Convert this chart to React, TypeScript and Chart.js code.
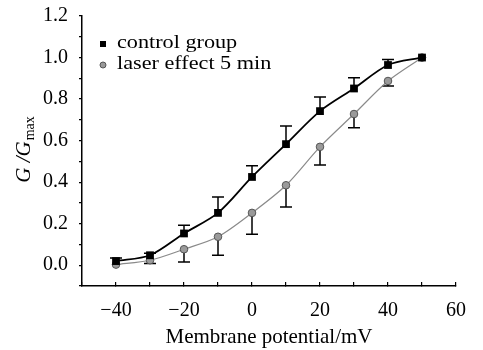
import React, { useEffect, useRef } from "react";
import { Chart, registerables } from "chart.js";

Chart.register(...registerables);

const potentials = [-40, -30, -20, -10, 0, 10, 20, 30, 40, 50];
const controlValues = [0.02, 0.048, 0.153, 0.252, 0.425, 0.583, 0.742, 0.851, 0.964, 1.0];
const controlErrorTop = [0.035, 0.058, 0.193, 0.329, 0.479, 0.67, 0.81, 0.903, 0.991, 1.0];
const laserValues = [0.003, 0.024, 0.077, 0.137, 0.252, 0.385, 0.57, 0.728, 0.887, 1.0];
const laserErrorBottom = [0.003, 0.008, 0.016, 0.048, 0.149, 0.28, 0.482, 0.662, 0.863, 1.0];
const seriesNames = ["control group", "laser effect 5 min"];
const xTitle = "Membrane potential/mV";

const FONT = '"Liberation Serif", Tinos, "Times New Roman", serif';

const errorBarPlugin = {
  id: "errorBars",
  beforeDatasetsDraw(chart: any) {
    const { ctx } = chart;
    const yScale = chart.scales.y;
    const sets = [controlErrorTop, laserErrorBottom];
    ctx.save();
    ctx.strokeStyle = "#000";
    ctx.lineWidth = 1.5;
    sets.forEach((errs, di) => {
      const meta = chart.getDatasetMeta(di);
      meta.data.forEach((pt: any, i: number) => {
        const ey = yScale.getPixelForValue(errs[i]);
        if (Math.abs(ey - pt.y) < 1.5) return;
        ctx.beginPath();
        ctx.moveTo(pt.x, pt.y);
        ctx.lineTo(pt.x, ey);
        ctx.moveTo(pt.x - 6, ey);
        ctx.lineTo(pt.x + 6, ey);
        ctx.stroke();
      });
    });
    ctx.restore();
  },
};

const decorPlugin = {
  id: "decor",
  afterDraw(chart: any) {
    const { ctx, chartArea } = chart;
    ctx.save();
    ctx.translate(23, 150);
    ctx.rotate(-Math.PI / 2);
    ctx.fillStyle = "#000";
    ctx.textBaseline = "alphabetic";
    ctx.font = `italic 21px ${FONT}`;
    const main = "G /G";
    const w1 = ctx.measureText(main).width;
    ctx.font = `14px ${FONT}`;
    const sub = "max";
    const w2 = ctx.measureText(sub).width;
    const start = -(w1 + w2) / 2;
    ctx.font = `italic 21px ${FONT}`;
    ctx.fillText(main, start, 7);
    ctx.font = `14px ${FONT}`;
    ctx.fillText(sub, start + w1 + 1, 11);
    ctx.restore();

    ctx.save();
    const lx = chartArea.left + 21;
    const ly1 = chartArea.top + 28;
    const ly2 = chartArea.top + 49;
    ctx.fillStyle = "#000";
    ctx.fillRect(lx - 3, ly1 - 3, 6, 6);
    ctx.beginPath();
    ctx.arc(lx, ly2, 3, 0, Math.PI * 2);
    ctx.fillStyle = "#999";
    ctx.fill();
    ctx.strokeStyle = "#555";
    ctx.lineWidth = 1;
    ctx.stroke();
    ctx.fillStyle = "#000";
    ctx.font = `18.5px ${FONT}`;
    ctx.textBaseline = "middle";
    [seriesNames[0], seriesNames[1]].forEach((t, i) => {
      ctx.save();
      ctx.translate(lx + 14, (i === 0 ? ly1 : ly2) - 1);
      ctx.scale(1.2, 1);
      ctx.fillText(t, 0, 0);
      ctx.restore();
    });
    ctx.restore();
  },
};

export default function App() {
  const ref = useRef<HTMLCanvasElement | null>(null);
  useEffect(() => {
    document.body.style.margin = "0";
    if (!ref.current) return;
    const chart = new Chart(ref.current, {
      type: "line",
      data: {
        datasets: [
          {
            label: seriesNames[0],
            data: potentials.map((x, i) => ({ x, y: controlValues[i] })),
            borderColor: "#000",
            backgroundColor: "#000",
            borderWidth: 1.8,
            pointStyle: "rect",
            pointRadius: 5.5,
            pointBorderWidth: 0,
            tension: 0.3,
          },
          {
            label: seriesNames[1],
            data: potentials.map((x, i) => ({ x, y: laserValues[i] })),
            borderColor: "#8a8a8a",
            backgroundColor: "#9a9a9a",
            pointBorderColor: "#555",
            borderWidth: 1.2,
            pointStyle: "circle",
            pointRadius: 3.8,
            pointBorderWidth: 1,
            tension: 0.3,
          },
        ],
      },
      options: {
        animation: false,
        responsive: false,
        devicePixelRatio: 1,
        layout: { padding: { top: 16, right: 20, left: 0, bottom: 0 } },
        plugins: { legend: { display: false }, tooltip: { enabled: false } },
        scales: {
          x: {
            type: "linear",
            min: -50,
            max: 60,
            afterFit(scale: any) {
              scale.height = 64;
              scale.paddingLeft = 0;
            },
            border: { color: "#000", width: 1.5 },
            grid: { drawOnChartArea: false, tickLength: -4, color: "#000", lineWidth: 1.2 },
            ticks: {
              stepSize: 10,
              autoSkip: false,
              maxRotation: 0,
              padding: 17,
              color: "#000",
              font: { family: FONT, size: 20 },
              callback: (v: any) => {
                const n = Math.round(Number(v));
                if (n % 20 !== 0) return "";
                return n < 0 ? "\u2212" + Math.abs(n) : String(n);
              },
            },
            title: {
              display: true,
              text: xTitle,
              color: "#000",
              font: { family: FONT, size: 21 },
              padding: { top: 0, bottom: 0 },
            },
          },
          y: {
            type: "linear",
            min: -0.1,
            max: 1.2,
            afterFit(scale: any) {
              scale.width = 82;
              scale.paddingTop = 0;
              scale.paddingBottom = 0;
            },
            border: { color: "#000", width: 1.5 },
            grid: { drawOnChartArea: false, tickLength: 3, color: "#000", lineWidth: 1.2 },
            ticks: {
              stepSize: 0.1,
              autoSkip: false,
              padding: 11,
              color: "#000",
              font: { family: FONT, size: 20 },
              callback: (v: any) => {
                const r = Math.round(Number(v) * 10);
                if (r < 0 || r % 2 !== 0) return "";
                return (r / 10).toFixed(1);
              },
            },
          },
        },
      },
      plugins: [errorBarPlugin, decorPlugin],
    } as any);
    let alive = true;
    const fs: any = (document as any).fonts;
    if (fs && fs.load) {
      Promise.all([
        fs.load('20px "Liberation Serif"'),
        fs.load('italic 21px "Liberation Serif"'),
      ])
        .catch(() => null)
        .then(() => {
          if (alive) chart.update();
        });
    }
    return () => {
      alive = false;
      chart.destroy();
    };
  }, []);
  return (
    <div>
      <canvas ref={ref} width={483} height={350} style={{ display: "block" }} />
    </div>
  );
}
